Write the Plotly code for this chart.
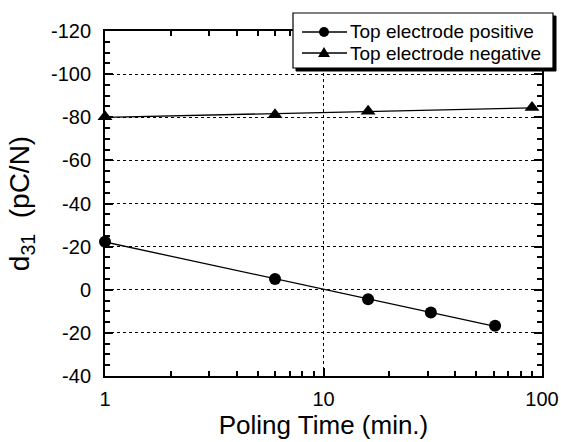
import numpy as np
import plotly.graph_objects as go

# Poling time (min.) and d31 readings for each poling polarity
time_pos = [1, 6, 16, 31, 61]
d31_pos = [-22.3, -5, 4.4, 10.6, 16.7]

time_neg = [1, 6, 16, 90]
d31_neg = [-80.2, -81.2, -82.8, -84.5]

series_names = ["Top electrode positive", "Top electrode negative"]

y_tickvals = [-120, -100, -80, -60, -40, -20, 0, 20, 40]
y_ticktext = ["-120", "-100", "-80", "-60", "-40", "-20", "0", "-20", "-40"]

FONT = "Liberation Sans, Arial, Helvetica, sans-serif"

W, H = 561, 442
ML, MR, MT, MB = 105, 19, 31, 66
PW, PH = W - ML - MR, H - MT - MB


def px(x):
    return (x - ML) / PW


def py(y):
    return (H - MB - y) / PH


def log_fit(x, y):
    # least-squares line of d31 against log10(time), spanning the measured range
    lx = np.log10(np.asarray(x, dtype=float))
    b, a = np.polyfit(lx, y, 1)
    xs = np.logspace(lx.min(), lx.max(), 50)
    return xs, a + b * np.log10(xs)


fig = go.Figure()

for t, d, sym, size, name in [
    (time_pos, d31_pos, "circle", 12, series_names[0]),
    (time_neg, d31_neg, "triangle-up", 13, series_names[1]),
]:
    fx, fy = log_fit(t, d)
    fig.add_trace(go.Scatter(
        x=fx, y=fy, mode="lines", line=dict(color="black", width=1.3),
        showlegend=False, hoverinfo="skip", cliponaxis=False,
    ))
    fig.add_trace(go.Scatter(
        x=t, y=d, mode="markers", name=name, showlegend=False,
        marker=dict(symbol=sym, size=size, color="black"),
        cliponaxis=False,
    ))

axis_common = dict(
    showline=True, linecolor="black", linewidth=2, mirror="allticks",
    ticks="inside", tickcolor="black", tickwidth=1.5, ticklen=8,
    showgrid=True, gridcolor="black", gridwidth=1, griddash="dot",
    zeroline=False, automargin=False,
    tickfont=dict(family=FONT, size=20, color="black"),
)

fig.update_xaxes(
    type="log", range=[0, 2],
    tickvals=[1, 10, 100], ticktext=["1", "10", "100"],
    minor=dict(tickvals=[2, 3, 4, 5, 6, 7, 8, 9, 20, 30, 40, 50, 60, 70, 80, 90],
               ticks="inside", ticklen=5, tickcolor="black", tickwidth=1.5, showgrid=False),
    title=dict(text="Poling Time (min.)", font=dict(family=FONT, size=26, color="black"), standoff=1),
    ticklabelstandoff=4,
    **axis_common,
)
fig.update_yaxes(
    range=[40, -120],
    tickvals=y_tickvals, ticktext=y_ticktext,
    minor=dict(dtick=5, ticks="inside", ticklen=5, tickcolor="black", tickwidth=1.5, showgrid=False),
    title=dict(text="d<sub>31</sub>  (pC/N)", font=dict(family=FONT, size=28, color="black"), standoff=13),
    ticklabelstandoff=8,
    **axis_common,
)

# legend box: black backing offset down-right, white panel on top
box_l, box_r, box_t, box_b = 293, 553, 13, 68
shadow = 3
fig.add_shape(type="rect", xref="paper", yref="paper", layer="above",
              x0=px(box_l + shadow), x1=px(box_r + shadow), y0=py(box_b + shadow), y1=py(box_t + shadow),
              fillcolor="black", line=dict(color="black", width=1))
fig.add_shape(type="rect", xref="paper", yref="paper", layer="above",
              x0=px(box_l), x1=px(box_r), y0=py(box_b), y1=py(box_t),
              fillcolor="white", line=dict(color="black", width=1.2))

rows = [32, 53]
sample_l, sample_r, sample_c, text_x = 302, 347, 324, 348
for row_y, name, kind in zip(rows, series_names, ["circle", "triangle"]):
    fig.add_shape(type="line", xref="paper", yref="paper", layer="above",
                  x0=px(sample_l), x1=px(sample_r), y0=py(row_y), y1=py(row_y),
                  line=dict(color="black", width=1.3))
    if kind == "circle":
        fig.add_shape(type="circle", xref="paper", yref="paper", layer="above",
                      xsizemode="pixel", ysizemode="pixel",
                      xanchor=px(sample_c), yanchor=py(row_y),
                      x0=-5, x1=5, y0=-5, y1=5,
                      fillcolor="black", line=dict(color="black", width=0))
    else:
        fig.add_shape(type="path", xref="paper", yref="paper", layer="above",
                      xsizemode="pixel", ysizemode="pixel",
                      xanchor=px(sample_c), yanchor=py(row_y),
                      path="M -6 -4 L 6 -4 L 0 6 Z",
                      fillcolor="black", line=dict(color="black", width=0))
    fig.add_annotation(x=px(text_x), y=py(row_y), xref="paper", yref="paper",
                       xanchor="left", yanchor="middle", showarrow=False,
                       text=name, font=dict(family=FONT, size=19, color="black"))

fig.update_layout(
    width=W, height=H,
    margin=dict(l=ML, r=MR, t=MT, b=MB),
    paper_bgcolor="white", plot_bgcolor="white",
    showlegend=False,
)

fig.write_html("out.html")
